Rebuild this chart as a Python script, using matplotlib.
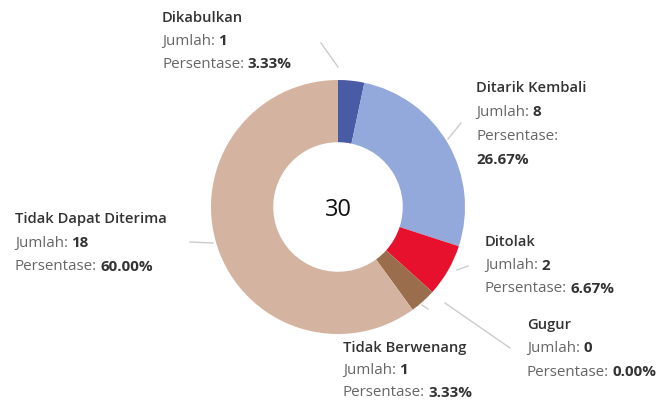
import matplotlib
matplotlib.use('Agg')
import matplotlib.pyplot as plt

# status putusan
categories = ['Dikabulkan', 'Ditarik Kembali', 'Ditolak', 'Gugur',
              'Tidak Berwenang', 'Tidak Dapat Diterima']
counts = [1, 8, 2, 0, 1, 18]
percents = ['3.33%', '26.67%', '6.67%', '0.00%', '3.33%', '60.00%']
colors = ['#4a5ba6', '#93a8db', '#e8112d', '#7f7f7f', '#9a6e4c', '#d4b4a0']

plt.rcParams['font.family'] = ['Open Sans', 'DejaVu Sans']
FS = 10.9

fig = plt.figure(figsize=(6.64, 4.01), dpi=100)
fig.patch.set_facecolor('white')
ax = fig.add_axes([0, 0, 1, 1])

cx, cy, r = 338, 207, 127
# sumbu y dibalik (koordinat piksel), jadi arah sudut ikut terbalik
ax.pie(counts, colors=colors, startangle=-90, counterclock=True,
       center=(cx, cy), radius=r, frame=True,
       wedgeprops=dict(width=r * 0.49, linewidth=0))
ax.set_xlim(0, 664)
ax.set_ylim(401, 0)
ax.set_aspect('equal')
ax.axis('off')

ax.text(cx, cy + 3, str(sum(counts)), ha='center', va='center',
        fontsize=17, color='#111111', fontweight='medium')

# garis penunjuk
leaders = [((321, 43), (338, 67)),
           ((461, 123), (448, 139)),
           ((468, 266), (457, 270)),
           ((510, 348), (445, 303)),
           ((422, 305), (428, 309)),
           ((190, 242), (213, 243))]
for (x1, y1), (x2, y2) in leaders:
    ax.plot([x1, x2], [y1, y2], color='#cccccc', lw=1)

fig.canvas.draw()
renderer = fig.canvas.get_renderer()
inv = ax.transData.inverted()


def mixed(x, y, prefix, value, size=FS):
    t = ax.text(x, y, prefix, ha='left', va='center', fontsize=size,
                color='#666666')
    bb = t.get_window_extent(renderer)
    x_end = inv.transform((bb.x1, bb.y0))[0]
    ax.text(x_end + 3.5, y, value, ha='left', va='center', fontsize=size,
            color='#333333', fontweight='bold')


# posisi label: (x, y nama, jarak baris, persentase di baris baru)
label_pos = [(162, 18, 23, False),
             (476, 88, 24.5, True),
             (485, 242, 23.5, False),
             (527, 325, 23.5, False),
             (343, 348, 22.5, False),
             (15, 219, 24, False)]

for name, n, pct, (x, y, dy, wrap) in zip(categories, counts, percents, label_pos):
    ax.text(x, y, name, ha='left', va='center', fontsize=FS - 0.3,
            color='#333333', fontweight='semibold')
    mixed(x, y + dy, 'Jumlah:', str(n))
    if wrap:
        ax.text(x, y + 2 * dy, 'Persentase:', ha='left', va='center',
                fontsize=FS, color='#666666')
        ax.text(x, y + 3 * dy - 2, pct, ha='left', va='center',
                fontsize=FS, color='#333333', fontweight='bold')
    else:
        mixed(x, y + 2 * dy, 'Persentase:', pct)

fig.savefig('out.png', dpi=100, facecolor='white')
